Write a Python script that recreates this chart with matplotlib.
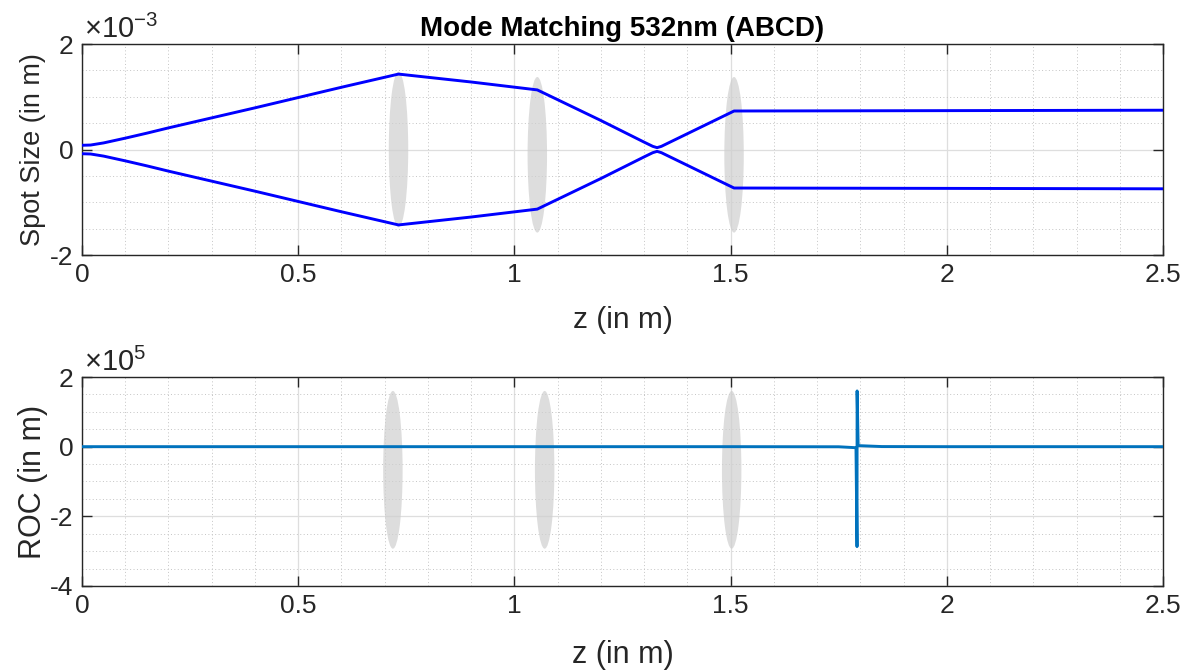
#!/usr/bin/env python3

import matplotlib
matplotlib.use("Agg")
import matplotlib.pyplot as plot
from matplotlib.patches import Ellipse
from matplotlib.ticker import MultipleLocator

plot.rcParams["font.family"] = ["Liberation Sans", "DejaVu Sans"]
plot.rcParams["mathtext.fontset"] = "custom"
plot.rcParams["mathtext.rm"] = "Liberation Sans"
plot.rcParams["mathtext.it"] = "Liberation Sans:italic"
plot.rcParams["axes.unicode_minus"] = False

# data #########################################################################

# beam radius (upper envelope), in units of 1e-3 m
spotZ = [0.0, 0.02, 0.05, 0.1, 0.15, 0.2, 0.3, 0.4, 0.5, 0.6, 0.732,
         0.9, 1.053, 1.2, 1.3, 1.32, 1.33, 1.34, 1.36, 1.508, 2.0, 2.5]
spotW = [0.08, 0.085, 0.125, 0.215, 0.31, 0.41, 0.60, 0.79, 0.985, 1.18, 1.43,
         1.28, 1.13, 0.55, 0.14, 0.06, 0.035, 0.06, 0.14, 0.73, 0.737, 0.745]

# radius of curvature, in units of 1e5 m
rocZ = [0.0, 0.5, 1.0, 1.5, 1.75, 1.790, 1.7924, 1.7926, 1.7950, 1.85, 2.0, 2.5]
rocR = [0.0, 0.0, 0.0, 0.0, -0.003, -0.03, -2.87, 1.60, 0.03, 0.003, 0.0, 0.0]

# lens positions (z in m) for each panel
lensTopZ = [0.732, 1.053, 1.508]
lensTopY = [0.0, -0.1, -0.1]
lensBottomZ = [0.719, 1.070, 1.5025]

################################################################################


# styleAxes ####################################################################

def styleAxes(ax, ymin, ymax):
  ax.set_xlim(0, 2.5)
  ax.set_ylim(ymin, ymax)
  ax.xaxis.set_major_locator(MultipleLocator(0.5))
  ax.xaxis.set_minor_locator(MultipleLocator(0.1))
  ax.yaxis.set_major_locator(MultipleLocator(2))
  ax.yaxis.set_minor_locator(MultipleLocator(0.5))
  ax.xaxis.set_major_formatter(plot.FuncFormatter(lambda v, p: "%g" % v))
  ax.yaxis.set_major_formatter(plot.FuncFormatter(lambda v, p: "%g" % v))
  ax.grid(which = "major", color = "#dedede", linewidth = 0.9, zorder = 0)
  ax.grid(which = "minor", color = "#c4c4c4", linewidth = 0.7,
          linestyle = (0, (1, 2.5)), zorder = 0)
  ax.set_axisbelow(True)
  ax.tick_params(which = "major", direction = "in", top = True, right = True,
                 length = 7, width = 1, color = "#262626",
                 labelsize = 19, labelcolor = "#262626", pad = 6)
  ax.tick_params(which = "minor", length = 0)
  for spine in ax.spines.values():
    spine.set_color("#262626")
    spine.set_linewidth(1.0)

################################################################################


# plotModeMatching #############################################################

def plotModeMatching(figureFilename):
  figure = plot.figure(figsize = (11.9, 6.7), dpi = 100)
  axTop = figure.add_axes([0.0689, 0.6194, 0.9084, 0.3149])
  axBottom = figure.add_axes([0.0689, 0.1254, 0.9084, 0.3119])

  # spot size
  styleAxes(axTop, -2, 2)
  for z, y in zip(lensTopZ, lensTopY):
    axTop.add_patch(Ellipse((z, y), 0.045, 2.95, facecolor = "#cfcfcf",
                            edgecolor = "none", alpha = 0.7, zorder = 2))
  axTop.plot(spotZ, spotW, color = "#0000ff", linewidth = 2.1, zorder = 3)
  axTop.plot(spotZ, [-w for w in spotW], color = "#0000ff", linewidth = 2.1,
             zorder = 3)
  axTop.set_title("Mode Matching 532nm (ABCD)", fontsize = 20,
                  fontweight = "bold", pad = 6)
  axTop.set_ylabel("Spot Size (in m)", fontsize = 19.5, color = "#262626")
  axTop.yaxis.set_label_coords(-0.045, 0.5)
  axTop.yaxis.label.set_va("center")
  axTop.set_xlabel("z (in m)", fontsize = 21.5, color = "#262626")
  axTop.xaxis.set_label_coords(0.5, -0.31)
  axTop.xaxis.label.set_va("center")
  axTop.text(0.002, 1.0, r"$\times10^{-3}$", transform = axTop.transAxes,
             fontsize = 21, color = "#262626", ha = "left", va = "bottom")

  # radius of curvature
  styleAxes(axBottom, -4, 2)
  for z in lensBottomZ:
    axBottom.add_patch(Ellipse((z, -0.665), 0.045, 4.53, facecolor = "#cfcfcf",
                               edgecolor = "none", alpha = 0.7, zorder = 2))
  axBottom.plot(rocZ, rocR, color = "#0072bd", linewidth = 2.1, zorder = 3)
  axBottom.set_ylabel("ROC (in m)", fontsize = 22, color = "#262626")
  axBottom.yaxis.set_label_coords(-0.045, 0.5)
  axBottom.yaxis.label.set_va("center")
  axBottom.set_xlabel("z (in m)", fontsize = 22, color = "#262626")
  axBottom.xaxis.set_label_coords(0.5, -0.33)
  axBottom.xaxis.label.set_va("center")
  axBottom.text(0.002, 1.0, r"$\times10^{5}$", transform = axBottom.transAxes,
                fontsize = 21, color = "#262626", ha = "left", va = "bottom")

  plot.savefig(figureFilename, dpi = 100)
  plot.close()

################################################################################

if __name__ == "__main__":
  plotModeMatching("out.png")
